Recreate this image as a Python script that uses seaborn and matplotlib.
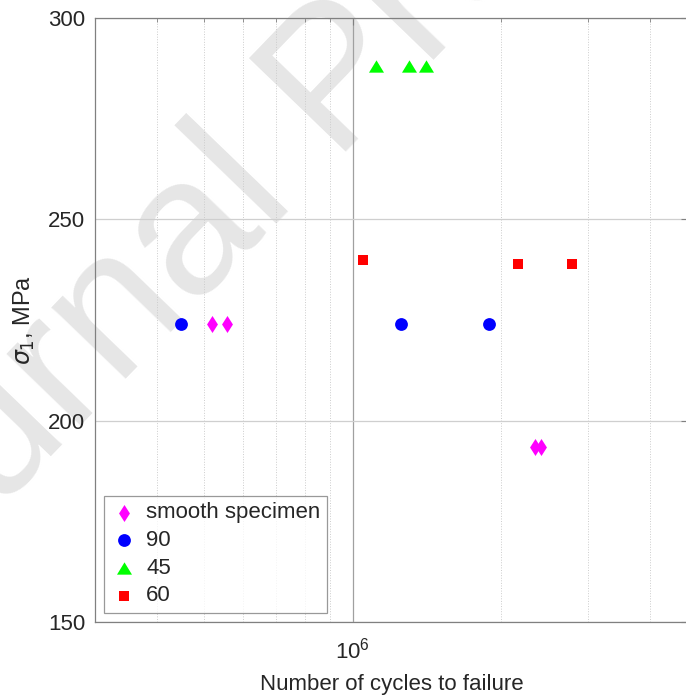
import numpy as np
import pandas as pd
import matplotlib
matplotlib.use("Agg")
import matplotlib.pyplot as plt
from matplotlib.ticker import LogLocator, FixedLocator, NullFormatter
import seaborn as sns

# data (cycles to failure, sigma_1 in MPa)
smooth_n = [5.17e5, 5.55e5, 2.335e6, 2.41e6]
smooth_s = [224, 224, 193.5, 193.5]
n90 = [4.49e5, 1.25e6, 1.885e6]
s90 = [224, 224, 224]
n45 = [1.115e6, 1.302e6, 1.408e6]
s45 = [288.2, 288.2, 288.2]
n60 = [1.048e6, 2.158e6, 2.78e6]
s60 = [239.8, 238.9, 238.9]

# MATLAB-like marker shapes (diamond a bit wider than 'd', flat triangle)
diamond = [(0, 1), (0.64, 0), (0, -1), (-0.64, 0)]
triangle = [(-1, -0.82), (1, -0.82), (0, 0.82)]

series = [
    ("smooth specimen", smooth_n, smooth_s, diamond, "#ff00ff", 150),
    ("90", n90, s90, "o", "#0000ff", 85),
    ("45", n45, s45, triangle, "#00ff00", 117),
    ("60", n60, s60, "s", "#ff0000", 52),
]


def main():
    sns.set_style("white")
    plt.rcParams['font.family'] = ['Liberation Sans', 'DejaVu Sans']

    fig = plt.figure(figsize=(6.86, 7.0), dpi=100)
    # right edge of the axes box falls just outside the image, as in the original
    ax = fig.add_axes([95 / 686, 78 / 700, 593 / 686, 604 / 700])

    for label, xs, ys, mk, col, sz in series:
        df = pd.DataFrame({"n": xs, "s": ys})
        sns.scatterplot(data=df, x="n", y="s", marker=mk, color=col, s=sz,
                        linewidth=0, ax=ax, label=label, zorder=3)

    ax.set_xscale("log")
    ax.set_xlim(3e5, 4.78e6)
    ax.set_ylim(150, 300)
    ax.yaxis.set_major_locator(FixedLocator([150, 200, 250, 300]))
    ax.xaxis.set_major_locator(FixedLocator([1e6]))
    ax.xaxis.set_minor_locator(LogLocator(base=10, subs=np.arange(2, 10)))
    ax.xaxis.set_minor_formatter(NullFormatter())

    # grid, MATLAB style
    ax.set_axisbelow(True)
    ax.grid(True, which="major", axis="y", color="#cfcfcf", lw=0.9)
    ax.grid(True, which="major", axis="x", color="#a0a0a0", lw=0.9)
    ax.grid(True, which="minor", axis="x", color="#cccccc", lw=0.7, ls=":")

    for sp in ax.spines.values():
        sp.set_visible(True)
        sp.set_color("#808080")
        sp.set_linewidth(0.9)
    ax.tick_params(which="both", direction="in", top=True, right=True,
                   colors="#808080", labelcolor="#262626", labelsize=16)
    ax.tick_params(which="major", length=5, pad=7)
    ax.tick_params(which="minor", length=3)
    ax.tick_params(axis="x", which="major", pad=11)

    ax.set_xlabel("Number of cycles to failure", fontsize=16, color="#262626", labelpad=8)
    ax.set_ylabel(r"$\sigma_1$, MPa", fontsize=17, color="#262626", labelpad=8)

    leg = ax.legend(loc="lower left", fontsize=16, frameon=True, fancybox=False,
                    edgecolor="#808080", borderaxespad=0.4, handletextpad=0.4,
                    labelspacing=0.3, borderpad=0.3, handlelength=1.2)
    leg.get_frame().set_linewidth(0.9)

    # watermark
    ax.text(-146 / 686, 1 - 660 / 700, "Journal Pre-proof", transform=fig.transFigure,
            fontsize=140, color="#e6e6e6", rotation=46, ha="left", va="baseline",
            rotation_mode="anchor", clip_on=False, zorder=0.1)

    fig.savefig("out.png", dpi=100)
    plt.close(fig)


if __name__ == "__main__":
    main()
